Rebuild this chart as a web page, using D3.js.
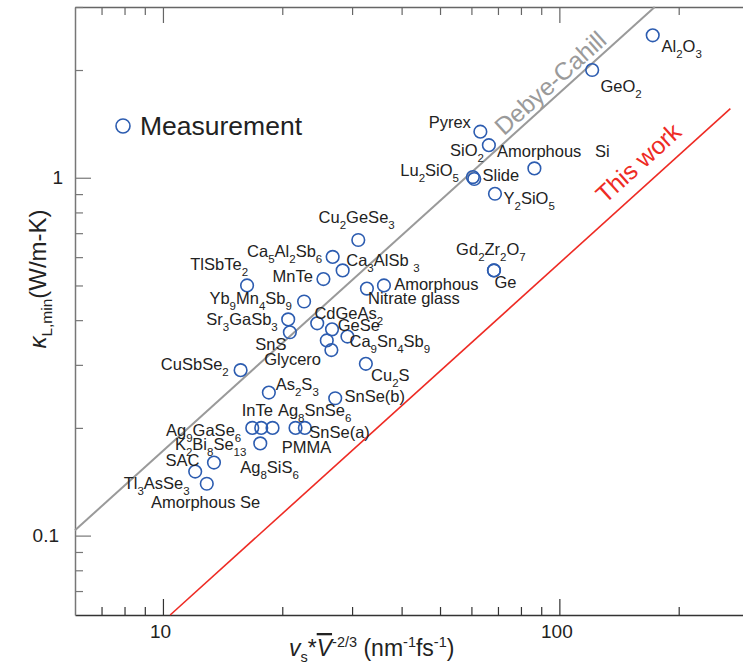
<!DOCTYPE html>
<html><head><meta charset="utf-8">
<script src="https://cdn.jsdelivr.net/npm/d3@7"></script>
<style>
body{margin:0;background:#fff}
svg{display:block}
text{font-family:"Liberation Sans",Arial,Helvetica,sans-serif}
</style>
</head><body>
<svg id="chart" width="743" height="666"></svg>
<script>
// ---------------- data ----------------
// measured points: v_s * V^-2/3 (nm^-1 fs^-1) and kappa_L,min (W/m-K)
const pointNames = ["Al2O3","GeO2","Pyrex","SiO2","Amorphous Si","Lu2SiO5","Slide","Y2SiO5",
  "Gd2Zr2O7","Ge","Cu2GeSe3","Ca5Al2Sb6","Ca3AlSb3","MnTe","TlSbTe2","Yb9Mn4Sb9","Sr3GaSb3",
  "SnS","CdGeAs2","Nitrate glass","Amorphous","GeSe2","Ca9Sn4Sb9","Glycerol-a","Glycerol",
  "CuSbSe2","Cu2S","As2S3","SnSe(b)","Ag9GaSe6","K-InTe","InTe","Ag8SnSe6","SnSe(a)","PMMA",
  "K2Bi8Se13","SAC","Amorphous Se"];
const pointV = [172,121,63.2,66.4,86.5,60.5,61.0,68.8,
  68.4,68.4,31.1,26.8,28.4,25.4,16.3,22.7,20.7,
  20.9,24.5,32.7,36.1,26.7,29.2,25.9,26.6,
  15.7,32.5,18.5,27.2,16.8,17.7,18.9,21.6,22.8,17.6,
  13.45,12.06,12.9];
const pointK = [2.50,2.00,1.345,1.233,1.062,1.004,0.992,0.902,
  0.551,0.551,0.670,0.601,0.551,0.521,0.500,0.451,0.402,
  0.370,0.392,0.490,0.500,0.377,0.360,0.351,0.330,
  0.290,0.302,0.251,0.242,0.200,0.200,0.200,0.200,0.200,0.181,
  0.160,0.151,0.1396];

// label texts ({} = subscript) and their anchor (left, baseline) in data units
const labelTexts = ["Al{2}O{3}","GeO{2}","Pyrex","SiO{2}","Amorphous","Si","Lu{2}SiO{5}","Slide",
  "Y{2}SiO{5}","Gd{2}Zr{2}O{7}","Ge","Cu{2}GeSe{3}","Ca{5}Al{2}Sb{6}","Ca{3}AlSb {3}","MnTe",
  "TlSbTe{2}","Yb{9}Mn{4}Sb{9}","Sr{3}GaSb{3}","Amorphous","Nitrate glass","CdGeAs{2}","GeSe",
  "Ca{9}Sn{4}Sb{9}","SnS","Glycero","CuSbSe{2}","Cu{2}S","As{2}S{3}","SnSe(b)","InTe",
  "Ag{8}SnSe{6}","Ag{9}GaSe{6}","SnSe(a)","K{2}Bi{8}Se{13}","PMMA","SAC","Ag{8}SiS{6}",
  "Tl{3}AsSe{3}","Amorphous Se"];
const labelV = [181,127,46.8,53.0,69.6,123,39.7,64.0,
  72.3,54.9,68.6,24.7,16.3,29.0,18.9,
  11.72,13.1,12.86,38.3,32.9,24.1,27.6,
  29.55,17.1,18.0,9.88,33.5,19.25,28.7,15.8,
  19.5,10.18,23.4,10.72,19.95,10.15,15.67,
  7.96,9.33];
const labelK = [2.24,1.74,1.379,1.149,1.145,1.145,1.010,0.978,
  0.842,0.610,0.493,0.745,0.601,0.567,0.510,
  0.551,0.443,0.387,0.487,0.443,0.404,0.373,
  0.337,0.331,0.299,0.291,0.270,0.255,0.236,0.216,
  0.216,0.190,0.187,0.174,0.170,0.157,0.150,
  0.1346,0.1197];

// model lines (end points)
const debyeCahillV = [6, 174];
const debyeCahillK = [0.1035, 3.0];
const thisWorkV = [10.43, 270];
const thisWorkK = [0.06, 1.56];

// axes
const xDomain = [6, 300];
const yDomain = [0.06, 3];
const xMajor = [10, 100];
const xMinor = [7, 8, 9, 20, 30, 40, 50, 60, 70, 80, 90, 200, 300];
const yMajor = [0.1, 1];
const yMinor = [0.07, 0.08, 0.09, 0.2, 0.3, 0.4, 0.5, 0.6, 0.7, 0.8, 0.9, 2, 3];

// ---------------- drawing ----------------
const svg = d3.select("#chart");
const x = d3.scaleLog().domain(xDomain).range([75, 748.5]);
const y = d3.scaleLog().domain(yDomain).range([615, 7]);

const blue = "#2c5cb0", red = "#ee2b24", gray = "#9a9a9a", ink = "#222";

function rich(sel, str, subSize, subDy) {
  const parts = str.split(/(\{[^}]*\})/).filter(s => s.length);
  let shifted = false;
  parts.forEach(p => {
    if (p[0] === "{") {
      sel.append("tspan").attr("font-size", subSize).attr("dy", shifted ? 0 : subDy).text(p.slice(1, -1));
      shifted = true;
    } else {
      sel.append("tspan").attr("dy", shifted ? -subDy : 0).text(p);
      shifted = false;
    }
  });
}

// axes
function styleAxis(g, color) {
  g.selectAll("path.domain").attr("stroke", color).attr("stroke-width", 1.5);
  g.selectAll(".tick line").attr("stroke", color).attr("stroke-width", 1.2);
  g.selectAll(".tick text").attr("fill", ink).attr("font-size", 19)
    .attr("font-family", '"Liberation Sans",Arial,sans-serif');
}
const gxb = svg.append("g").attr("transform", "translate(0,615)")
  .call(d3.axisBottom(x).tickValues(xMajor).tickFormat(d3.format("d")).tickSize(-16).tickSizeOuter(0).tickPadding(10));
styleAxis(gxb, "#333");
gxb.selectAll(".tick text").attr("dx", -3);
const gxbm = svg.append("g").attr("transform", "translate(0,615)")
  .call(d3.axisBottom(x).tickValues(xMinor).tickFormat("").tickSize(-8).tickSizeOuter(0));
styleAxis(gxbm, "#333"); gxbm.select("path.domain").remove();

const gxt = svg.append("g").attr("transform", "translate(0,7)")
  .call(d3.axisTop(x).tickValues(xMajor).tickFormat("").tickSize(-16).tickSizeOuter(0));
styleAxis(gxt, "#666");
const gxtm = svg.append("g").attr("transform", "translate(0,7)")
  .call(d3.axisTop(x).tickValues(xMinor).tickFormat("").tickSize(-8).tickSizeOuter(0));
styleAxis(gxtm, "#666"); gxtm.select("path.domain").remove();

const gyl = svg.append("g").attr("transform", "translate(75,0)")
  .call(d3.axisLeft(y).tickValues(yMajor).tickFormat(d => String(d)).tickSize(-16).tickSizeOuter(0).tickPadding(12));
styleAxis(gyl, "#777");
gyl.selectAll(".tick text").filter(d => d < 1).attr("dx", -4);
const gylm = svg.append("g").attr("transform", "translate(75,0)")
  .call(d3.axisLeft(y).tickValues(yMinor).tickFormat("").tickSize(-8).tickSizeOuter(0));
styleAxis(gylm, "#777"); gylm.select("path.domain").remove();

// lines
const line = d3.line().x(d => x(d[0])).y(d => y(d[1]));
const dcPts = d3.zip(debyeCahillV, debyeCahillK);
const twPts = d3.zip(thisWorkV, thisWorkK);
svg.append("path").attr("d", line(dcPts)).attr("fill", "none").attr("stroke", gray).attr("stroke-width", 2);
svg.append("path").attr("d", line(twPts)).attr("fill", "none").attr("stroke", red).attr("stroke-width", 1.6);

function onLine(pts, v) {
  const [a, b] = pts;
  const t = (Math.log(v) - Math.log(a[0])) / (Math.log(b[0]) - Math.log(a[0]));
  const k = Math.exp(Math.log(a[1]) + t * (Math.log(b[1]) - Math.log(a[1])));
  const ang = Math.atan2(y(b[1]) - y(a[1]), x(b[0]) - x(a[0])) * 180 / Math.PI;
  return [x(v), y(k), ang];
}
const dcLab = onLine(dcPts, 100);
svg.append("text").attr("transform", `translate(${dcLab[0]},${dcLab[1]}) rotate(${dcLab[2]})`)
  .attr("text-anchor", "middle").attr("dy", -5).attr("font-size", 24.5).attr("fill", gray).text("Debye-Cahill");
const twLab = onLine(twPts, 172);
svg.append("text").attr("transform", `translate(${twLab[0]},${twLab[1]}) rotate(${twLab[2]})`)
  .attr("text-anchor", "middle").attr("dy", -13).attr("font-size", 24.5).attr("fill", red).text("This work");

// points
svg.append("g").selectAll("circle").data(d3.range(pointV.length)).join("circle")
  .attr("cx", i => x(pointV[i])).attr("cy", i => y(pointK[i])).attr("r", 6.3)
  .attr("fill", "none").attr("stroke", blue).attr("stroke-width", 1.6);

// labels
const lg = svg.append("g").attr("fill", ink).attr("font-size", 16.5);
labelTexts.forEach((t, i) => {
  const tx = lg.append("text").attr("x", x(labelV[i])).attr("y", y(labelK[i]));
  rich(tx, t, 11.5, 6);
});

// legend
svg.append("circle").attr("cx", 123).attr("cy", 126).attr("r", 7)
  .attr("fill", "none").attr("stroke", blue).attr("stroke-width", 1.6);
svg.append("text").attr("x", 140).attr("y", 135).attr("font-size", 26.5).attr("fill", ink).text("Measurement");

// axis titles
const xt = svg.append("text").attr("x", 289).attr("y", 656).attr("font-size", 23).attr("fill", ink);
xt.append("tspan").attr("font-style", "italic").text("v");
xt.append("tspan").attr("font-size", 14.5).attr("dy", 6).text("s");
xt.append("tspan").attr("dy", -6).text("*");
xt.append("tspan").attr("font-style", "italic").style("text-decoration", "overline").text("V");
xt.append("tspan").attr("font-size", 14.5).attr("dy", -9).text("-2/3");
xt.append("tspan").attr("dy", 9).text(" (nm");
xt.append("tspan").attr("font-size", 14.5).attr("dy", -9).text("-1");
xt.append("tspan").attr("dy", 9).text("fs");
xt.append("tspan").attr("font-size", 14.5).attr("dy", -9).text("-1");
xt.append("tspan").attr("dy", 9).text(")");

const yt = svg.append("text").attr("transform", "translate(46,279) rotate(-90)")
  .attr("text-anchor", "middle").attr("font-size", 24).attr("fill", ink);
yt.append("tspan").attr("font-style", "italic").text("κ");
yt.append("tspan").attr("font-size", 15.5).attr("dy", 6).text("L,min");
yt.append("tspan").attr("dy", -6).text("(W/m-K)");
</script>
</body></html>
